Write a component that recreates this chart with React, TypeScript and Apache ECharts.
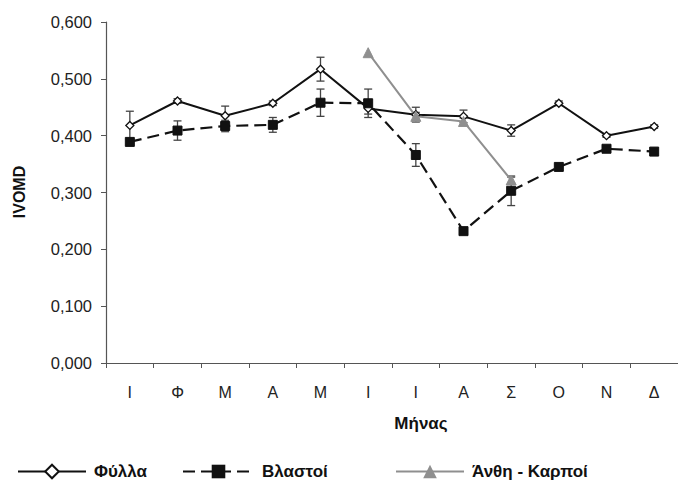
import React, { useEffect, useRef } from "react";
import * as echarts from "echarts";

const months = ["Ι", "Φ", "Μ", "Α", "Μ", "Ι", "Ι", "Α", "Σ", "Ο", "Ν", "Δ"];
const yTicks = [0, 0.1, 0.2, 0.3, 0.4, 0.5, 0.6];

const leaves = [0.418, 0.461, 0.435, 0.457, 0.517, 0.448, 0.437, 0.434, 0.409, 0.457, 0.4, 0.416];
const leavesErr = [0.025, 0.004, 0.017, 0.004, 0.021, 0.01, 0.013, 0.011, 0.01, 0.004, 0.003, 0.003];

const shoots = [0.389, 0.409, 0.417, 0.419, 0.458, 0.457, 0.366, 0.232, 0.303, 0.345, 0.377, 0.372];
const shootsErr = [0.004, 0.017, 0.01, 0.013, 0.024, 0.025, 0.02, 0.003, 0.026, 0.004, 0.003, 0.003];

const flowers = [null, null, null, null, null, 0.546, 0.434, 0.425, 0.322, null, null, null];
const flowersErr = [null, null, null, null, null, 0, 0.007, 0.006, 0.005, null, null, null];

const FONT = "'Liberation Sans', Arial, sans-serif";

function errData(vals: (number | null)[], errs: (number | null)[]) {
  const out: number[][] = [];
  vals.forEach((v, i) => {
    const e = errs[i];
    if (v != null && e != null && e > 0) out.push([i, v, e]);
  });
  return out;
}

function errorSeries(vals: (number | null)[], errs: (number | null)[], color: string) {
  return {
    type: "custom",
    silent: true,
    z: 1,
    data: errData(vals, errs),
    encode: { x: 0, y: 1 },
    renderItem: (params: any, api: any) => {
      const x = api.value(0);
      const y = api.value(1);
      const e = api.value(2);
      const hi = api.coord([x, y + e]);
      const lo = api.coord([x, y - e]);
      const w = 4;
      const style = { stroke: color, lineWidth: 1.3 };
      return {
        type: "group",
        children: [
          { type: "line", shape: { x1: hi[0], y1: hi[1], x2: lo[0], y2: lo[1] }, style },
          { type: "line", shape: { x1: hi[0] - w, y1: hi[1], x2: hi[0] + w, y2: hi[1] }, style },
          { type: "line", shape: { x1: lo[0] - w, y1: lo[1], x2: lo[0] + w, y2: lo[1] }, style },
        ],
      };
    },
  };
}

export default function App() {
  const ref = useRef<HTMLDivElement>(null);
  useEffect(() => {
    if (!ref.current) return;
    const chart = echarts.init(ref.current, null, { renderer: "svg" });
    const legendText = {
      fontSize: 17,
      fontWeight: "bold",
      color: "#111",
      fontFamily: FONT,
      lineHeight: 17,
      padding: [0, 0, 0, 3],
    };
    chart.setOption({
      animation: false,
      backgroundColor: "#fff",
      grid: { left: 106, top: 22, width: 576, height: 341, containLabel: false },
      legend: [
        { data: ["Φύλλα"], left: 17, top: 463, padding: 0, itemWidth: 68, itemHeight: 17, textStyle: legendText },
        { data: ["Βλαστοί"], left: 182, top: 463, padding: 0, itemWidth: 71, itemHeight: 17, textStyle: legendText },
        { data: ["Άνθη - Καρποί"], left: 395, top: 463, padding: 0, itemWidth: 68, itemHeight: 17, textStyle: legendText },
      ],
      graphic: [
        {
          type: "text",
          x: 19,
          y: 192,
          rotation: Math.PI / 2,
          style: { text: "IVOMD", font: `bold 16px ${FONT}`, fill: "#111", textAlign: "center", textVerticalAlign: "middle" },
        },
        {
          type: "text",
          x: 421,
          y: 423,
          style: { text: "Μήνας", font: `bold 17px ${FONT}`, fill: "#111", textAlign: "center", textVerticalAlign: "middle" },
        },
      ],
      xAxis: {
        type: "category",
        data: months,
        boundaryGap: true,
        axisLine: { lineStyle: { color: "#555", width: 1.2 } },
        axisTick: { show: true, length: 5, lineStyle: { color: "#555" } },
        axisLabel: { fontSize: 16, color: "#222", fontFamily: FONT, margin: 21 },
        splitLine: { show: false },
      },
      yAxis: {
        type: "value",
        min: yTicks[0],
        max: yTicks[yTicks.length - 1],
        interval: 0.1,
        axisLine: { show: true, lineStyle: { color: "#555", width: 1.2 } },
        axisTick: { show: true, length: 5, lineStyle: { color: "#555" } },
        axisLabel: {
          fontSize: 16.5,
          color: "#222",
          fontFamily: FONT,
          margin: 14,
          formatter: (v: number) => v.toFixed(3).replace(".", ","),
        },
        splitLine: { show: false },
      },
      series: [
        errorSeries(leaves, leavesErr, "#444"),
        errorSeries(shoots, shootsErr, "#444"),
        errorSeries(flowers, flowersErr, "#555"),
        {
          name: "Φύλλα",
          type: "line",
          data: leaves,
          z: 3,
          symbol: "diamond",
          symbolSize: 8,
          lineStyle: { color: "#111", width: 2 },
          itemStyle: { color: "#fff", borderColor: "#111", borderWidth: 1.3 },
        },
        {
          name: "Βλαστοί",
          type: "line",
          data: shoots,
          z: 3,
          symbol: "rect",
          symbolSize: 9,
          lineStyle: { color: "#111", width: 2.2, type: [12, 6] },
          itemStyle: { color: "#111", borderColor: "#111" },
        },
        {
          name: "Άνθη - Καρποί",
          type: "line",
          data: flowers,
          z: 3,
          symbol: "triangle",
          symbolSize: 10,
          connectNulls: false,
          lineStyle: { color: "#8f8f8f", width: 2 },
          itemStyle: { color: "#8f8f8f", borderColor: "#8f8f8f" },
        },
      ],
    });
    return () => chart.dispose();
  }, []);
  return <div ref={ref} style={{ position: "fixed", left: 0, top: 0, width: 678, height: 482 }} />;
}
